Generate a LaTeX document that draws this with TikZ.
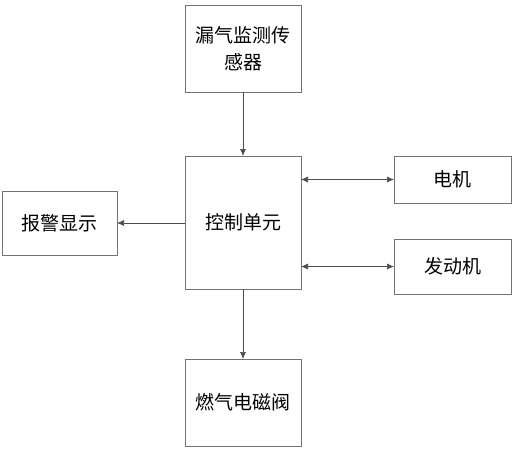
\documentclass[tikz,border=0pt]{standalone}
\usepackage{fontspec}
\setmainfont{Noto Sans CJK SC}
\usetikzlibrary{
  arrows.meta,
  calc,
}

\begin{document}
\begin{tikzpicture}[x=1pt,y=-1pt,
  font=\fontsize{19}{27}\selectfont,>={Latex[length=7pt,width=6pt]},
  blk/.style={draw=black!55,line width=.8pt,inner sep=0pt,outer sep=0pt,
    align=center},
  lnk/.style={draw=black!70,line width=.7pt}]
  \useasboundingbox (0,0) rectangle (514,450);
  %%
  \node[blk,minimum width=116,minimum height=87](sensor) at (243,48.5)
      {漏气监测传\\感器};
  \node[blk,minimum width=116,minimum height=133](ctrl) at (243,222.5)
      {控制单元};
  \node[blk,minimum width=115,minimum height=64](alarm) at (59.5,223)
      {报警显示};
  \node[blk,minimum width=117,minimum height=47](motor) at (452.5,179.5)
      {电机};
  \node[blk,minimum width=117,minimum height=55](engine) at (452.5,266.5)
      {发动机};
  \node[blk,minimum width=116,minimum height=87](valve) at (243,402.5)
      {燃气电磁阀};
  %%
  \draw[lnk,->] (sensor) -- (ctrl);
  \draw[lnk,->] (ctrl) -- (valve);
  \draw[lnk,->] (ctrl.west |- alarm.east) -- (alarm.east);
  \draw[lnk,<->] (motor.west -| ctrl.east) -- (motor.west);
  \draw[lnk,<->] (engine.west -| ctrl.east) -- (engine.west);
\end{tikzpicture}
\end{document}
